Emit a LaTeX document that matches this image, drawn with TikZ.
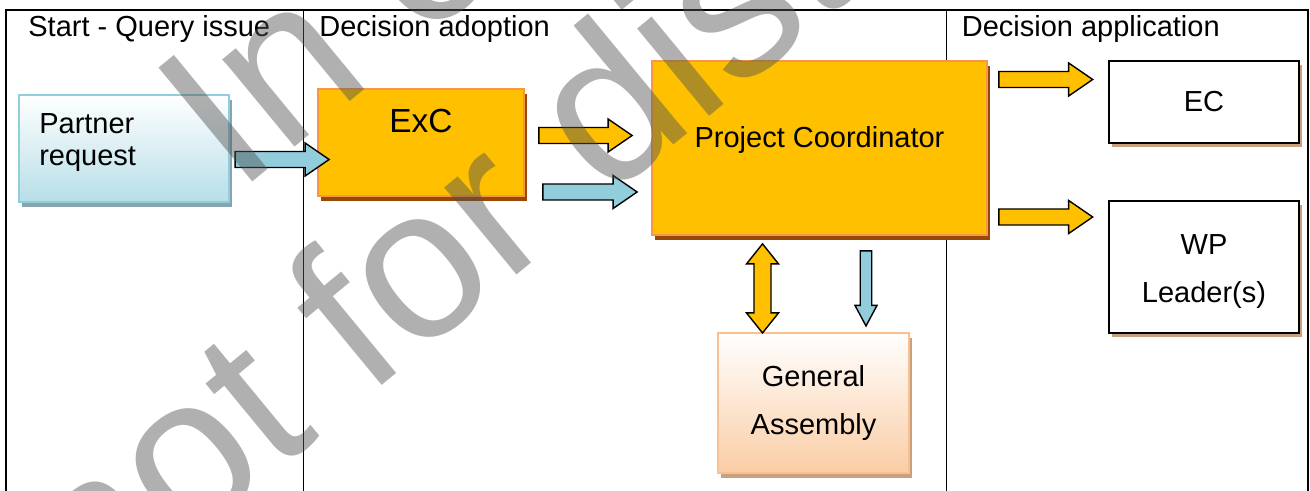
\documentclass[tikz,border=0pt]{standalone}
\usepackage{fontspec}
\setmainfont{Liberation Sans}
\usetikzlibrary{calc,shadows}

\definecolor{boxorange}{RGB}{255,192,0}
\definecolor{edgeorange}{RGB}{247,150,70}
\definecolor{shadebrown}{RGB}{152,72,7}
\definecolor{paleblue}{RGB}{183,222,232}
\definecolor{edgeblue}{RGB}{146,205,220}
\definecolor{palepeach}{RGB}{250,205,165}
\definecolor{edgepeach}{RGB}{250,192,144}
\definecolor{hatchblue}{RGB}{135,165,175}
\definecolor{hatchtan}{RGB}{200,160,125}
\definecolor{markgray}{RGB}{82,82,82}

% block arrow: fill, shaft half width, head half width, head length, tail, tip
\newcommand{\blockarrow}[6]{%
  \coordinate (ba-neck) at ($(#6)!#4!(#5)$);
  \draw[blockline, fill=#1] ($(#5)!#2!90:(#6)$) -- ($(ba-neck)!#2!90:(#6)$)
    -- ($(ba-neck)!#3!90:(#6)$) -- (#6) -- ($(ba-neck)!#3!-90:(#6)$)
    -- ($(ba-neck)!#2!-90:(#6)$) -- ($(#5)!#2!-90:(#6)$) -- cycle;}

% same, with a head at both ends
\newcommand{\twinarrow}[6]{%
  \coordinate (ba-necka) at ($(#5)!#4!(#6)$);
  \coordinate (ba-neckb) at ($(#6)!#4!(#5)$);
  \draw[blockline, fill=#1] (#5) -- ($(ba-necka)!#3!90:(#6)$) -- ($(ba-necka)!#2!90:(#6)$)
    -- ($(ba-neckb)!#2!90:(#6)$) -- ($(ba-neckb)!#3!90:(#6)$) -- (#6)
    -- ($(ba-neckb)!#3!-90:(#6)$) -- ($(ba-neckb)!#2!-90:(#6)$)
    -- ($(ba-necka)!#2!-90:(#6)$) -- ($(ba-necka)!#3!-90:(#6)$) -- cycle;}

\begin{document}
\begin{tikzpicture}[scale=1.0,
    every node/.style={font=\fontsize{16.5}{27.6}\selectfont},
    frame/.style={line width=1.1pt},
    blockline/.style={draw=black, line width=0.8pt, line join=miter},
    orangebox/.style={draw=edgeorange, line width=1pt, fill=boxorange,
        drop shadow={shadow xshift=0.05cm, shadow yshift=-0.1cm, fill=shadebrown, opacity=1}},
    bluebox/.style={draw=edgeblue, line width=1.2pt, top color=white, bottom color=paleblue,
        drop shadow={shadow xshift=0.05cm, shadow yshift=-0.1cm, fill=hatchblue, opacity=1}},
    peachbox/.style={draw=edgepeach, line width=1.2pt, top color=white, bottom color=palepeach,
        drop shadow={shadow xshift=0.05cm, shadow yshift=-0.1cm, fill=hatchtan, opacity=1}},
    plainbox/.style={draw=black, line width=1.5pt, fill=white,
        drop shadow={shadow xshift=0.05cm, shadow yshift=-0.09cm, fill=hatchtan, opacity=1}},
    watermark/.style={rotate=39.5, inner sep=0pt, text=markgray, text opacity=0.46,
        font=\fontsize{122}{140}\selectfont}]

        \useasboundingbox (0,0) rectangle (26.2,9.82);

        % lanes
        \coordinate (TL) at (0.12,9.62);
        \coordinate (TR) at (26.16,9.62);
        \draw[frame] (0.12,0) -- (TL) -- (TR) -- (26.16,0);
        \draw[frame] (6.07,0) -- (6.07,9.62);
        \draw[frame] (18.93,0) -- (18.93,9.62);

        % lane titles
        \node[anchor=base west, inner sep=0pt] (lane-start) at (0.56,9.08) {Start - Query issue};
        \node[anchor=base west, inner sep=0pt] (lane-adopt) at (6.38,9.08) {Decision adoption};
        \node[anchor=base west, inner sep=0pt] (lane-apply) at (19.23,9.08) {Decision application};

        % boxes
        \node[bluebox, minimum width=4.2cm, minimum height=2.14cm] (partner) at (2.48,6.85) {};
        \node[anchor=west, align=left, inner sep=0pt, font=\fontsize{16.5}{18.2}\selectfont]
            (partner-text) at ($(partner.west)+(0.42,0.12)$) {Partner\\request};

        \node[orangebox, minimum width=4.12cm, minimum height=2.14cm] (exc) at (8.42,6.97) {};
        \node[anchor=base, font=\fontsize{19}{23}\selectfont] (exc-text) at ($(exc.center)+(0,0.19)$) {ExC};

        \node[orangebox, minimum width=6.7cm, minimum height=3.48cm] (pc) at (16.39,6.86) {};
        \node[anchor=base] (pc-text) at (pc.center) {Project Coordinator};

        \node[plainbox, minimum width=3.8cm, minimum height=1.64cm] (ec) at (24.08,7.78) {EC};
        \node[plainbox, minimum width=3.8cm, minimum height=2.64cm] (wp) at (24.08,4.48) {};
        \node[align=center] (wp-text) at ($(wp.center)+(0,-0.09)$) {WP\\Leader(s)};
        \node[peachbox, minimum width=3.82cm, minimum height=2.8cm, align=center] (ga) at (16.27,1.76) {General\\Assembly};

        % arrow ends
        \coordinate (in-tail) at ($(partner.east)+(0.1,-0.22)$);
        \coordinate (in-tip) at ($(exc.west |- in-tail)+(0.24,0)$);
        \coordinate (go-tail) at ($(exc.east)+(0.28,0.14)$);
        \coordinate (go-tip) at ($(pc.west |- go-tail)+(-0.38,0)$);
        \coordinate (info-tail) at ($(exc.east)+(0.36,-0.99)$);
        \coordinate (info-tip) at ($(pc.west |- info-tail)+(-0.28,0)$);
        \coordinate (ec-tail) at ($(pc.east)+(0.22,1.37)$);
        \coordinate (ec-tip) at ($(ec.west |- ec-tail)+(-0.3,0)$);
        \coordinate (wp-tail) at ($(pc.east)+(0.22,-1.38)$);
        \coordinate (wp-tip) at ($(wp.west |- wp-tail)+(-0.3,0)$);
        \coordinate (gm-top) at ($(pc.south)+(-1.14,-0.16)$);
        \coordinate (gm-bot) at ($(ga.north -| gm-top)+(0,-0.02)$);
        \coordinate (gb-top) at ($(pc.south)+(0.93,-0.3)$);
        \coordinate (gb-tip) at ($(ga.north -| gb-top)+(0,0.12)$);

        % block arrows
        \blockarrow{edgeblue}{0.16cm}{0.33cm}{0.48cm}{in-tail}{in-tip}
        \blockarrow{boxorange}{0.16cm}{0.33cm}{0.48cm}{go-tail}{go-tip}
        \blockarrow{edgeblue}{0.16cm}{0.33cm}{0.48cm}{info-tail}{info-tip}
        \blockarrow{boxorange}{0.16cm}{0.33cm}{0.48cm}{ec-tail}{ec-tip}
        \blockarrow{boxorange}{0.16cm}{0.33cm}{0.48cm}{wp-tail}{wp-tip}
        \twinarrow{boxorange}{0.17cm}{0.32cm}{0.4cm}{gm-top}{gm-bot}
        \blockarrow{edgeblue}{0.115cm}{0.22cm}{0.41cm}{gb-top}{gb-tip}

        % stamp across the sheet
        \begin{scope}
            \clip (0,0) rectangle (26.2,9.82);
            \node[watermark, anchor=base west] (mark-top) at (4.75,5.93) {In confidence};
            \node[watermark, anchor=base west] (mark-bottom) at (1.83,-2.69) {not for distribution};
        \end{scope}
    \end{tikzpicture}
\end{document}
